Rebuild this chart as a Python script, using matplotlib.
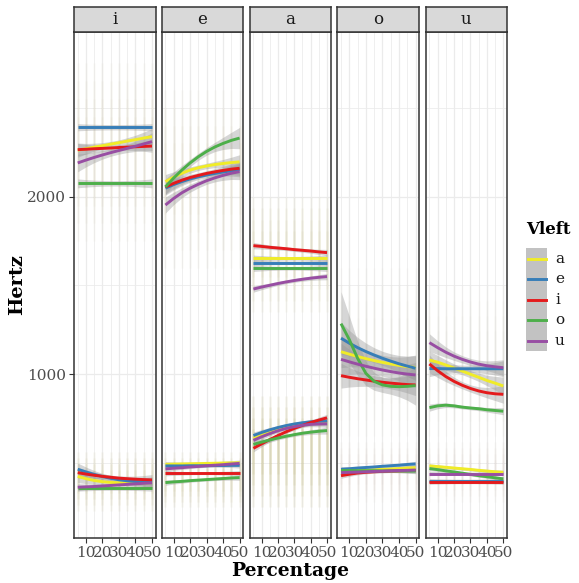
import matplotlib
matplotlib.use("Agg")
import matplotlib.pyplot as plt
import numpy as np
from matplotlib.patches import Rectangle
from matplotlib.lines import Line2D

plt.rcParams['font.family'] = ['DejaVu Serif']

# ---------------- data ----------------
pct = [5, 10, 15, 20, 25, 30, 35, 40, 45, 50]
panels = ['i', 'e', 'a', 'o', 'u']
vleft = ['a', 'e', 'i', 'o', 'u']
colors = {'a': '#F0EC28', 'e': '#377EB8', 'i': '#E41A1C', 'o': '#4DAF4A', 'u': '#984EA3'}

# F2 (upper) and F1 (lower) smoothed means, Hz, per panel and Vleft
F2_i = {'a': [2262, 2270, 2279, 2287, 2296, 2304, 2313, 2321, 2330, 2338],
        'e': [2391, 2391, 2391, 2391, 2391, 2391, 2391, 2391, 2391, 2391],
        'i': [2265, 2267, 2270, 2272, 2274, 2277, 2279, 2281, 2283, 2285],
        'o': [2075, 2075, 2075, 2075, 2075, 2075, 2075, 2075, 2075, 2075],
        'u': [2190, 2206, 2221, 2235, 2248, 2260, 2272, 2284, 2297, 2310]}
F1_i = {'a': [425, 412, 402, 395, 391, 389, 388, 388, 389, 390],
        'e': [465, 450, 436, 424, 414, 406, 400, 396, 393, 392],
        'i': [446, 438, 431, 425, 420, 415, 412, 409, 407, 405],
        'o': [357, 357, 357, 357, 357, 357, 357, 357, 357, 357],
        'u': [364, 366, 368, 371, 374, 377, 380, 383, 386, 389]}
F2_e = {'a': [2085, 2110, 2132, 2150, 2163, 2173, 2181, 2187, 2192, 2196],
        'e': [2048, 2068, 2085, 2100, 2112, 2122, 2131, 2139, 2146, 2152],
        'i': [2055, 2075, 2093, 2108, 2120, 2131, 2140, 2148, 2155, 2160],
        'o': [2055, 2105, 2150, 2190, 2225, 2255, 2280, 2300, 2317, 2330],
        'u': [1953, 1990, 2022, 2048, 2070, 2090, 2106, 2120, 2132, 2141]}
F1_e = {'a': [493, 494, 495, 496, 497, 498, 499, 500, 501, 502],
        'e': [484, 484, 484, 485, 485, 485, 486, 486, 487, 487],
        'i': [443, 443, 443, 443, 443, 443, 443, 443, 443, 443],
        'o': [390, 394, 397, 401, 404, 407, 410, 413, 416, 418],
        'u': [467, 471, 474, 478, 481, 485, 488, 491, 495, 498]}
F2_a = {'a': [1653, 1653, 1653, 1653, 1653, 1653, 1653, 1653, 1653, 1653],
        'e': [1628, 1628, 1628, 1628, 1628, 1628, 1628, 1628, 1628, 1628],
        'i': [1724, 1720, 1715, 1711, 1707, 1702, 1698, 1694, 1689, 1685],
        'o': [1597, 1597, 1597, 1597, 1597, 1597, 1597, 1597, 1597, 1597],
        'u': [1480, 1491, 1501, 1511, 1520, 1528, 1535, 1541, 1546, 1550]}
F1_a = {'a': [640, 658, 674, 688, 700, 710, 718, 724, 728, 730],
        'e': [655, 672, 687, 700, 711, 720, 727, 732, 735, 737],
        'i': [583, 608, 632, 655, 676, 695, 712, 728, 742, 755],
        'o': [605, 618, 630, 641, 651, 660, 668, 674, 679, 683],
        'u': [628, 648, 666, 682, 695, 705, 713, 718, 720, 721]}
F2_o = {'a': [1127, 1113, 1100, 1088, 1077, 1067, 1058, 1050, 1043, 1038],
        'e': [1203, 1175, 1150, 1128, 1108, 1090, 1074, 1059, 1046, 1034],
        'i': [992, 983, 975, 968, 961, 955, 950, 946, 942, 940],
        'o': [1285, 1195, 1090, 1005, 960, 940, 932, 930, 932, 936],
        'u': [1084, 1070, 1057, 1045, 1034, 1024, 1015, 1007, 1001, 996]}
F1_o = {'a': [452, 455, 457, 460, 462, 465, 467, 469, 472, 474],
        'e': [465, 468, 472, 475, 478, 482, 485, 488, 492, 495],
        'i': [429, 437, 444, 448, 451, 453, 455, 456, 457, 458],
        'o': [458, 458, 457, 457, 457, 456, 456, 456, 455, 455],
        'u': [446, 448, 449, 451, 453, 454, 456, 458, 459, 461]}
F2_u = {'a': [1080, 1068, 1052, 1035, 1018, 1000, 983, 965, 950, 934],
        'e': [1032, 1032, 1031, 1031, 1031, 1031, 1031, 1031, 1031, 1031],
        'i': [1058, 1020, 987, 960, 938, 920, 906, 896, 890, 887],
        'o': [812, 822, 826, 822, 815, 810, 806, 800, 796, 792],
        'u': [1178, 1150, 1124, 1102, 1084, 1069, 1057, 1048, 1042, 1037]}
F1_u = {'a': [484, 480, 476, 472, 468, 464, 459, 455, 451, 448],
        'e': [401, 401, 401, 401, 401, 401, 401, 401, 401, 401],
        'i': [392, 392, 392, 392, 392, 392, 392, 392, 392, 392],
        'o': [469, 463, 456, 450, 443, 436, 429, 423, 417, 411],
        'u': [441, 441, 441, 441, 441, 441, 441, 441, 441, 441]}

# standard-error half widths (start, middle, end), Hz
SE_F2_i = {'a': (40, 15, 45), 'e': (20, 15, 20), 'i': (35, 15, 35), 'o': (25, 15, 25), 'u': (50, 20, 50)}
SE_F1_i = {'a': (35, 15, 30), 'e': (35, 15, 30), 'i': (30, 12, 30), 'o': (15, 10, 15), 'u': (20, 10, 20)}
SE_F2_e = {'a': (40, 15, 40), 'e': (40, 15, 40), 'i': (40, 15, 40), 'o': (45, 20, 60), 'u': (45, 20, 45)}
SE_F1_e = {'a': (15, 8, 15), 'e': (15, 8, 15), 'i': (15, 8, 15), 'o': (15, 8, 15), 'u': (15, 8, 15)}
SE_F2_a = {'a': (18, 10, 18), 'e': (18, 10, 18), 'i': (18, 10, 18), 'o': (18, 10, 18), 'u': (18, 10, 18)}
SE_F1_a = {'a': (20, 10, 20), 'e': (20, 10, 20), 'i': (20, 10, 20), 'o': (20, 10, 20), 'u': (20, 10, 20)}
SE_F2_o = {'a': (90, 40, 70), 'e': (90, 40, 70), 'i': (70, 30, 60), 'o': (180, 45, 110), 'u': (90, 35, 70)}
SE_F1_o = {'a': (15, 8, 15), 'e': (15, 8, 15), 'i': (15, 8, 15), 'o': (15, 8, 15), 'u': (15, 8, 15)}
SE_F2_u = {'a': (50, 20, 50), 'e': (45, 20, 45), 'i': (50, 20, 50), 'o': (20, 10, 20), 'u': (50, 20, 45)}
SE_F1_u = {'a': (12, 8, 12), 'e': (12, 8, 12), 'i': (12, 8, 12), 'o': (12, 8, 12), 'u': (12, 8, 12)}

# spread of raw measurement points (Hz) per panel: (F1 low, F1 high, F2 low, F2 high)
pts_i = (230, 560, 1750, 2750)
pts_e = (250, 560, 1600, 2600)
pts_a = (250, 880, 1350, 2000)
pts_o = (280, 620, 650, 1600)
pts_u = (280, 620, 650, 1500)

F2 = {'i': F2_i, 'e': F2_e, 'a': F2_a, 'o': F2_o, 'u': F2_u}
F1 = {'i': F1_i, 'e': F1_e, 'a': F1_a, 'o': F1_o, 'u': F1_u}
SE2 = {'i': SE_F2_i, 'e': SE_F2_e, 'a': SE_F2_a, 'o': SE_F2_o, 'u': SE_F2_u}
SE1 = {'i': SE_F1_i, 'e': SE_F1_e, 'a': SE_F1_a, 'o': SE_F1_o, 'u': SE_F1_u}
PTS = {'i': pts_i, 'e': pts_e, 'a': pts_a, 'o': pts_o, 'u': pts_u}

# ---------------- styling / layout ----------------
W, H = 579, 583
fig = plt.figure(figsize=(W / 100, H / 100), dpi=100)

def rect(x0, y0, x1, y1):
    return [x0 / W, 1 - y1 / H, (x1 - x0) / W, (y1 - y0) / H]

panel_x = [(74, 155.7), (161.7, 243.3), (249.7, 330.7), (337.3, 419.3), (425.7, 507)]
top_strip, top_panel, bottom_panel = 6.7, 31.7, 538
border = '#333333'
grid_c = '#ebebeb'
pt_col = {'i': ('#b0a450', 0.15, 0.08), 'e': ('#b0a450', 0.15, 0.08), 'a': ('#b0a450', 0.22, 0.12),
          'o': ('#a88878', 0.07, 0.045), 'u': ('#a88878', 0.07, 0.045)}
fade = [1.0, 0.8, 0.6, 0.4]

xs = np.array(pct, dtype=float)
t = (xs - xs[0]) / (xs[-1] - xs[0])

def se_curve(s):
    s0, sm, s1 = s
    return s0 * 2 * (t - 0.5) * (t - 1) - sm * 4 * t * (t - 1) + s1 * 2 * t * (t - 0.5)

for k, p in enumerate(panels):
    x0, x1 = panel_x[k]
    ax = fig.add_axes(rect(x0, top_panel, x1, bottom_panel))
    ax.set_xlim(2.75, 52.25)
    ax.set_ylim(78, 2929)
    ax.set_xticks([10, 20, 30, 40, 50])
    ax.set_xticks([5, 15, 25, 35, 45], minor=True)
    ax.set_yticks([1000, 2000])
    ax.set_yticks([500, 1500, 2500], minor=True)
    ax.grid(which='major', color=grid_c, lw=0.9, zorder=0)
    ax.grid(which='minor', color=grid_c, lw=0.55, zorder=0)
    ax.set_axisbelow(True)
    for s in ax.spines.values():
        s.set_color(border)
        s.set_linewidth(1.1)
    ax.tick_params(which='major', length=3.5, width=0.8, color=border,
                   labelsize=11, labelcolor='#4d4d4d', pad=2)
    ax.tick_params(which='minor', length=0)
    if k > 0:
        ax.tick_params(axis='y', left=False, labelleft=False)

    # raw measurement columns (denser towards the middle of their spread)
    c, a1, a2 = pt_col[p]
    lo1, hi1, lo2, hi2 = PTS[p]
    for lo, hi, al in ((lo1, hi1, a1), (lo2, hi2, a2)):
        mid, half = (lo + hi) / 2, (hi - lo) / 2
        for f in fade:
            ax.vlines(xs, mid - half * f, mid + half * f, color=c, alpha=al / len(fade) * 1.6,
                      lw=2, zorder=1)

    for form, se in ((F2[p], SE2[p]), (F1[p], SE1[p])):
        for v in vleft:
            y = np.array(form[v], dtype=float)
            h = se_curve(se[v])
            ax.fill_between(xs, y - h, y + h, color='#999999', alpha=0.4, lw=0, zorder=2)
            ax.plot(xs, y, color=colors[v], lw=2.1, zorder=3, solid_capstyle='butt')

    sax = fig.add_axes(rect(x0, top_strip, x1, top_panel))
    sax.set_facecolor('#d9d9d9')
    sax.set_xticks([]); sax.set_yticks([])
    for s in sax.spines.values():
        s.set_color(border)
        s.set_linewidth(1.1)
    sax.text(0.5, 0.5, p, ha='center', va='center', fontsize=12, color='#1a1a1a',
             transform=sax.transAxes)

fig.text(17 / W, 1 - 285 / H, 'Hertz', rotation=90, ha='center', va='center',
         fontsize=14, fontweight='bold')
fig.text(290.5 / W, 1 - 571 / H, 'Percentage', ha='center', va='center',
         fontsize=13.5, fontweight='bold')

# legend
lax = fig.add_axes([0, 0, 1, 1], facecolor='none')
lax.set_xlim(0, W); lax.set_ylim(H, 0); lax.axis('off')
lax.text(526, 230, 'Vleft', fontsize=12, fontweight='bold', ha='left', va='center')
key_top, key_h = 248.3, 20.5
for j, v in enumerate(vleft):
    yk = key_top + j * key_h
    lax.add_patch(Rectangle((525.7, yk), 21.6, key_h, facecolor='#c2c2c2', edgecolor='none'))
    lax.add_line(Line2D([527.5, 545.5], [yk + key_h / 2] * 2, color=colors[v], lw=2.1))
    lax.text(555, yk + key_h / 2, v, fontsize=11, ha='left', va='center', color='#1a1a1a')

fig.savefig('out.png', dpi=100)
